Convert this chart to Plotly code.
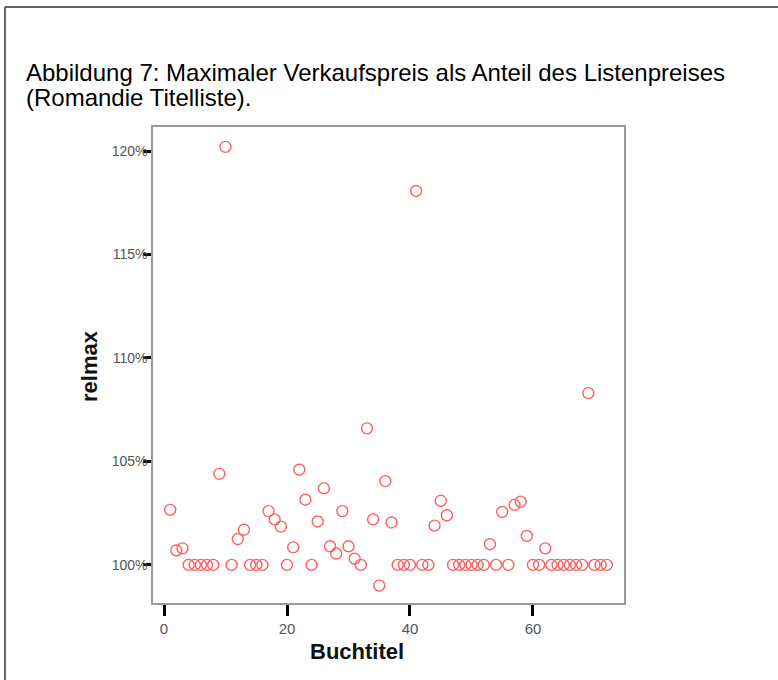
import plotly.graph_objects as go

# Data: book title index and max sale price as % of list price
buchtitel = list(range(1, 73))
relmax = [
    102.66, 100.7, 100.8, 100, 100, 100, 100, 100, 104.4, 120.2,
    100, 101.25, 101.7, 100, 100, 100, 102.6, 102.2, 101.85, 100,
    100.85, 104.6, 103.15, 100, 102.1, 103.7, 100.9, 100.55, 102.6, 100.9,
    100.3, 100, 106.6, 102.2, 99.0, 104.05, 102.05, 100, 100, 100,
    118.07, 100, 100, 101.9, 103.1, 102.4, 100, 100, 100, 100,
    100, 100, 101.0, 100, 102.56, 100, 102.9, 103.06, 101.4, 100,
    100, 100.8, 100, 100, 100, 100, 100, 100, 108.3, 100,
    100, 100,
]
x_ticks = [0, 20, 40, 60]
y_ticks = [100, 105, 110, 115, 120]
y_ticktext = ["100%", "105%", "110%", "115%", "120%"]

W, H = 778, 680
L, R, T, B = 153, 624, 127, 603  # plot area in pixels

def px_x(p):
    return (p - L) / (R - L)

def px_y(p):
    return (B - p) / (B - T)

FONT = "Liberation Sans, Arial, sans-serif"

fig = go.Figure()
fig.add_trace(go.Scatter(
    x=buchtitel, y=relmax, mode="markers",
    marker=dict(symbol="circle-open", size=11, color="rgb(255,95,95)",
                line=dict(width=1.4, color="rgb(255,95,95)")),
    showlegend=False, hoverinfo="x+y",
))

fig.update_layout(
    width=W, height=H,
    margin=dict(l=L, r=W - R, t=T, b=H - B, pad=0),
    paper_bgcolor="white", plot_bgcolor="white",
    font=dict(family=FONT),
    xaxis=dict(
        range=[-1.79, 74.8], tickvals=x_ticks, showgrid=False, zeroline=False,
        showline=True, linecolor="#9a9a9a", linewidth=1.5, mirror=True,
        ticks="outside", ticklen=11, tickwidth=3, tickcolor="black",
        tickfont=dict(size=15, color="#555555", family=FONT),
    ),
    yaxis=dict(
        range=[98.16, 121.16], tickvals=y_ticks, ticktext=y_ticktext,
        showgrid=False, zeroline=False,
        showline=True, linecolor="#9a9a9a", linewidth=1.5, mirror=True,
        ticks="outside", ticklen=8, tickwidth=3, tickcolor="black",
        ticklabelstandoff=-7,
        tickfont=dict(size=14, color="#555555", family=FONT),
    ),
)

# Title (two lines)
fig.add_annotation(text="Abbildung 7: Maximaler Verkaufspreis als Anteil des Listenpreises",
                   xref="paper", yref="paper", x=px_x(24), y=px_y(73),
                   xanchor="left", yanchor="middle", showarrow=False,
                   font=dict(size=24, color="black", family=FONT))
fig.add_annotation(text="(Romandie Titelliste).",
                   xref="paper", yref="paper", x=px_x(24), y=px_y(97),
                   xanchor="left", yanchor="middle", showarrow=False,
                   font=dict(size=24, color="black", family=FONT))
# Axis titles
fig.add_annotation(text="<b>Buchtitel</b>", xref="paper", yref="paper",
                   x=px_x(357), y=px_y(651), xanchor="center", yanchor="middle",
                   showarrow=False, font=dict(size=22, color="#111111", family=FONT))
fig.add_annotation(text="<b>relmax</b>", xref="paper", yref="paper",
                   x=px_x(89), y=px_y(366), xanchor="center", yanchor="middle",
                   textangle=-90, showarrow=False,
                   font=dict(size=22, color="#111111", family=FONT))

# Outer document frame (left and top edges)
fig.add_shape(type="line", xref="paper", yref="paper",
              x0=px_x(5), x1=px_x(5), y0=px_y(7), y1=px_y(690),
              line=dict(color="#333333", width=1.5))
fig.add_shape(type="line", xref="paper", yref="paper",
              x0=px_x(5), x1=px_x(790), y0=px_y(7), y1=px_y(7),
              line=dict(color="#333333", width=1.5))

fig.write_html("out.html", config={"displayModeBar": False},
               post_script="document.body.style.margin='0';document.body.style.overflow='hidden';")
